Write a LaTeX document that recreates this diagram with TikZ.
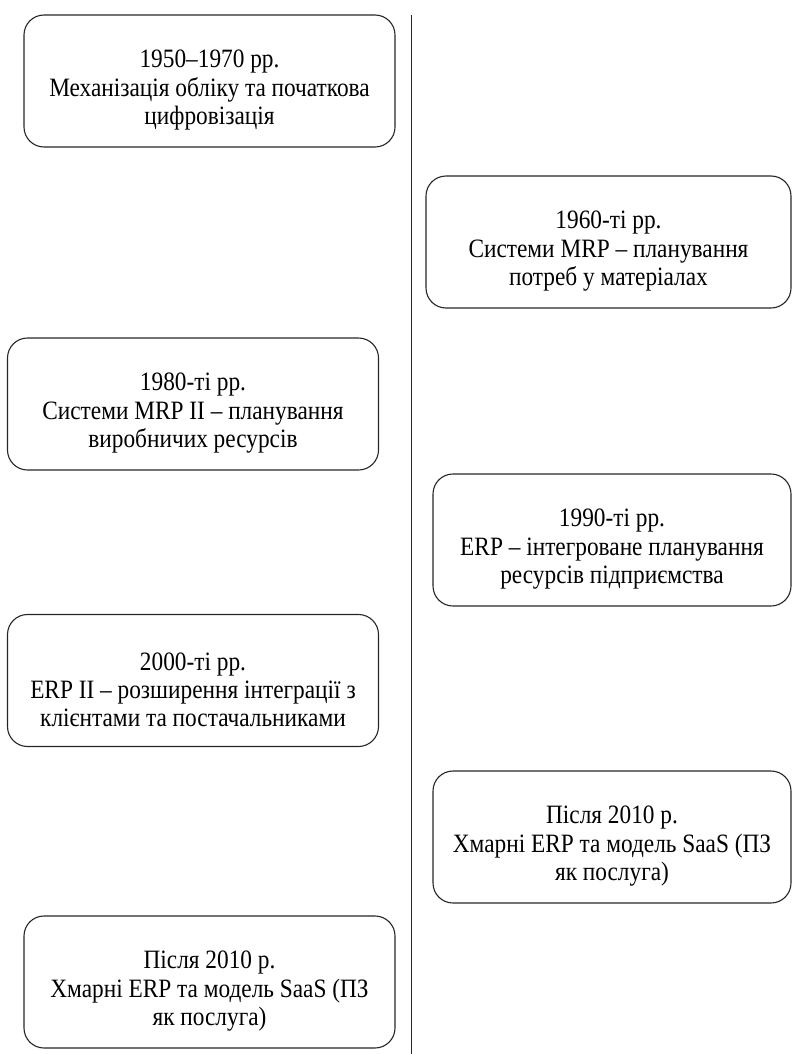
\documentclass[tikz,border=0pt]{standalone}
\usepackage{fontspec}
\setmainfont[FakeStretch=0.88]{Liberation Serif}
\newcommand\boxlift{\rule{0pt}{36pt}}
\begin{document}
\begin{tikzpicture}[x=1pt,y=-1pt,
  evbox/.style={draw=black!85, line width=1.1pt, rounded corners=20pt, minimum height=132pt,
    align=center, inner sep=0pt, font=\fontsize{26.5}{28.3}\selectfont},
  lbox/.style={evbox, minimum width=371pt},
  rbox/.style={evbox, minimum width=358pt},
  axis/.style={draw=black!85, line width=1.1pt}]
\useasboundingbox (0,0) rectangle (792,1054);
\coordinate (ltop) at (411.5,15);
\coordinate (lbot) at (411.5,1054);
\draw[axis] (ltop) -- (lbot);
\node[lbox] (b1) at (209.5,81) {\boxlift1950–1970 рр.\\Механізація обліку та початкова\\цифровізація};
\node[rbox, minimum width=365pt] (b2) at (608.5,242) {\boxlift1960-ті рр.\\Системи MRP – планування\\потреб у матеріалах};
\node[lbox] (b3) at (193,404) {\boxlift1980-ті рр.\\Системи MRP II – планування\\виробничих ресурсів};
\node[rbox] (b4) at (612,540) {\boxlift1990-ті рр.\\ERP – інтегроване планування\\ресурсів підприємства};
\node[lbox] (b5) at (193,680.5) {\boxlift2000-ті рр.\\ERP II – розширення інтеграції з\\клієнтами та постачальниками};
\node[rbox] (b6) at (612,837) {\boxlift Після 2010 р.\\Хмарні ERP та модель SaaS (ПЗ\\як послуга)};
\node[lbox] (b7) at (209.5,982) {\boxlift Після 2010 р.\\Хмарні ERP та модель SaaS (ПЗ\\як послуга)};
\end{tikzpicture}
\end{document}
